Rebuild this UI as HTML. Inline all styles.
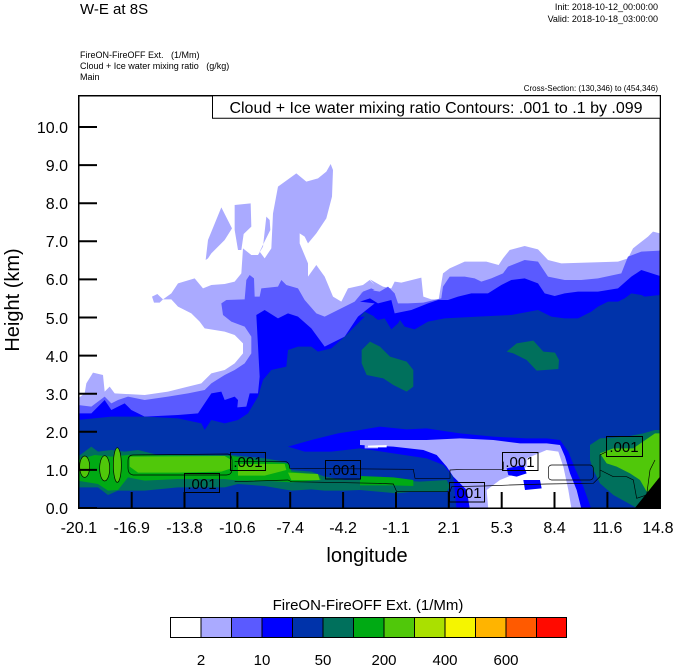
<!DOCTYPE html>
<html><head><meta charset="utf-8"><style>
html,body{margin:0;padding:0;background:#fff;}
svg{display:block;font-family:"Liberation Sans",Arial,sans-serif;}
</style></head><body>
<svg width="674" height="667" viewBox="0 0 674 667" xmlns="http://www.w3.org/2000/svg">
<defs><clipPath id="pc"><rect x="79" y="96" width="581" height="412"/></clipPath></defs>
<text x="80" y="14" font-size="15">W-E at 8S</text>
<text x="658" y="10" font-size="9" text-anchor="end">Init: 2018-10-12_00:00:00</text>
<text x="658" y="22" font-size="9" text-anchor="end">Valid: 2018-10-18_03:00:00</text>
<text x="80" y="58" font-size="9" style="white-space:pre">FireON-FireOFF Ext.   (1/Mm)</text>
<text x="80" y="69" font-size="9" style="white-space:pre">Cloud + Ice water mixing ratio   (g/kg)</text>
<text x="80" y="80" font-size="9">Main</text>
<text x="658" y="91" font-size="8" text-anchor="end">Cross-Section: (130,346) to (454,346)</text>

<g clip-path="url(#pc)">
<g transform="translate(78,130) scale(0.33333)">
<polygon fill="#aaaaff" points="0,805 20,790 25,760 45,728 75,735 80,785 95,770 110,790 200,795 270,785 330,770 370,760 400,730 440,720 470,700 495,670 495,640 470,615 440,605 380,595 365,575 340,550 300,530 280,508 255,508 245,518 228,518 222,500 238,492 255,508 280,490 300,460 350,445 375,475 400,465 440,462 470,455 490,430 495,355 520,375 540,375 555,350 565,260 575,270 577,300 562,330 545,365 560,385 580,355 585,250 600,170 655,130 685,155 720,145 745,125 758,102 765,120 762,200 745,265 715,310 690,340 680,320 665,310 665,340 690,400 690,440 715,405 740,440 765,500 790,515 810,475 855,465 875,450 890,465 876,448 915,470 940,475 950,455 970,458 1030,443 1036,500 1060,508 1082,508 1095,430 1115,415 1160,395 1225,395 1262,405 1275,385 1295,360 1340,348 1380,358 1410,390 1450,400 1620,395 1650,385 1665,355 1710,320 1725,305 1746,310 1746,1134 0,1134"/>
<polygon fill="#aaaaff" points="383,390 390,330 430,232 462,295 440,330 400,370 390,385"/>
<polygon fill="#aaaaff" points="470,225 518,220 520,290 497,312 490,360 480,360 470,300"/>
<polygon fill="#5a5aff" points="0,825 40,830 80,800 100,820 120,810 150,800 200,810 270,800 330,790 380,780 400,760 440,735 470,720 500,700 520,670 520,620 500,590 460,575 435,555 430,520 445,510 500,508 505,450 515,435 528,445 530,500 545,500 550,475 600,470 610,450 625,465 660,475 680,510 715,550 740,560 770,545 830,515 855,485 880,475 890,480 846,490 876,480 905,485 930,470 950,490 960,520 990,520 1036,518 1090,505 1095,470 1115,440 1160,440 1190,445 1210,455 1240,445 1275,430 1290,410 1340,390 1380,395 1410,440 1460,450 1510,450 1560,445 1630,430 1650,380 1690,365 1746,362 1746,1134 0,1134"/>
<polygon fill="#0000ff" points="0,850 40,850 80,810 100,840 120,830 140,820 160,840 200,860 300,855 360,850 400,790 430,785 440,810 470,800 480,810 478,832 505,830 515,790 540,790 545,740 535,555 560,540 600,565 630,550 660,560 700,595 740,650 800,620 840,560 890,520 846,515 876,505 900,520 940,510 950,550 1000,540 1050,520 1080,510 1110,510 1140,500 1180,490 1230,490 1270,465 1300,450 1340,445 1380,460 1400,490 1430,498 1460,490 1500,485 1560,485 1620,475 1660,440 1690,420 1746,438 1746,1134 0,1134"/>
<polygon fill="#0033aa" points="0,870 100,860 200,860 300,865 370,880 380,900 400,870 440,880 480,870 510,850 540,800 555,750 580,720 625,710 630,660 660,650 700,650 720,665 760,655 800,620 840,580 870,550 890,560 846,560 860,545 880,555 900,570 920,565 940,598 960,580 966,570 980,590 1010,598 1050,575 1100,565 1200,560 1300,555 1380,540 1420,560 1460,565 1500,565 1540,545 1560,530 1590,515 1620,515 1640,505 1660,490 1690,495 1700,500 1746,495 1746,1134 0,1134"/>
<polygon fill="#00705c" points="851,660 876,635 906,650 936,680 986,695 1006,720 1006,770 986,785 946,765 916,745 866,735 851,700"/>
<polygon fill="#00705c" points="1286,665 1316,640 1366,632 1396,665 1431,668 1443,690 1441,717 1376,722 1346,690 1306,670"/>
</g>
<g transform="translate(78,380) scale(0.33333)">
<polygon fill="#0000ff" points="630,200 700,180 780,160 846,150 906,140 986,148 1046,145 1146,160 1246,170 1346,175 1406,175 1446,180 1471,215 1491,265 1516,320 1541,390 1136,390 1126,290 1096,255 1046,235 946,220 846,205 760,215 680,215"/>
<polygon fill="#aaaaff" points="846,180 946,180 1046,180 1146,175 1246,180 1326,190 1406,190 1446,195 1461,230 1476,280 1496,330 1511,390 1176,390 1166,330 1126,290 1106,260 1076,225 1036,210 946,200 846,195"/>
<polygon fill="#aaaaff" points="860,192 900,190 900,205 860,205"/>
<polygon fill="#ffffff" points="1346,235 1406,210 1441,215 1456,260 1471,330 1481,390 1231,390 1226,330 1266,300 1316,280 1346,260"/>
<polygon fill="#ffffff" points="870,197 926,195 926,202 870,202"/>
<polygon fill="#0000ff" points="1286,265 1336,255 1346,280 1316,290 1291,285"/>
<polygon fill="#0000ff" points="1336,300 1386,300 1391,325 1341,330"/>
<polygon fill="#00705c" points="0,230 40,200 60,215 100,210 140,215 180,210 240,225 460,225 560,235 620,245 640,270 700,275 740,290 800,300 846,300 946,300 1026,305 1106,300 1116,320 1106,335 1006,335 956,340 846,330 800,332 740,332 700,328 640,332 560,318 480,312 440,322 300,322 200,332 120,332 90,345 60,322 0,322"/>
<polygon fill="#00aa14" points="0,240 50,225 100,230 150,225 460,228 560,245 630,250 640,275 720,285 730,300 640,307 560,302 480,302 440,297 300,297 200,302 150,292 120,330 90,332 60,312 0,302"/>
<polygon fill="#00aa14" points="846,288 946,292 1006,300 1006,318 946,316 846,316"/>
<polygon fill="#50c80a" points="155,230 440,228 460,240 460,265 430,275 300,278 180,278 155,260"/>
<polygon fill="#50c80a" points="480,252 620,252 625,270 560,287 480,287"/>
<polygon fill="#50c80a" points="630,278 720,282 725,300 640,300"/>
<ellipse cx="20" cy="260" rx="15" ry="32" fill="#50c80a"/>
<ellipse cx="80" cy="265" rx="15" ry="38" fill="#50c80a"/>
<ellipse cx="118" cy="255" rx="12" ry="52" fill="#50c80a"/>
<polygon fill="#00705c" points="1536,195 1566,175 1646,170 1696,160 1731,150 1746,150 1746,400 1706,400 1606,345 1566,310 1546,270 1536,240"/>
<polygon fill="#50c80a" points="1666,205 1731,160 1746,160 1746,330 1706,335 1686,300 1656,280 1616,260 1586,250 1566,220 1606,205"/>
<polygon fill="#000" points="1666,390 1746,390 1746,290"/>
<g fill="none" stroke="#000" stroke-width="2">
<path d="M165,225 L450,222 Q462,225 462,240 L462,270 Q460,285 445,285 L165,285 Q150,282 150,265 L150,242 Q150,225 165,225 Z"/>
<path d="M470,245 L625,245 Q635,250 635,265 L1006,268 L1011,295 L1116,295 L1116,270 L1156,268 L1276,268 L1276,245"/>
<path d="M470,305 L630,300 L640,305 L900,310 L946,312 L956,335 L1116,335 L1121,320 L1216,318 L1296,315 L1406,312 L1546,310 L1566,290 L1566,225 L1586,215"/>
<rect x="1411" y="255" width="135" height="45" rx="10"/>
<path d="M1566,270 L1606,290 L1646,290 L1666,300 L1676,355 L1706,345 L1716,270 L1731,240"/>
<ellipse cx="20" cy="260" rx="15" ry="32"/>
<ellipse cx="80" cy="265" rx="15" ry="38"/>
<ellipse cx="118" cy="255" rx="12" ry="52"/>
</g>
</g>
</g>

<g fill="none" stroke="#000" stroke-width="1">
<rect x="230.5" y="452.5" width="35" height="18"/>
<rect x="184.5" y="473.5" width="35" height="19"/>
<rect x="325.5" y="460.5" width="35" height="18.5"/>
<rect x="449.5" y="482.5" width="35" height="19.5"/>
<rect x="502.5" y="452.5" width="35.5" height="18"/>
<rect x="606.5" y="436.5" width="36" height="20"/>
</g>
<g font-size="15" text-anchor="middle">
<text x="248" y="467">.001</text>
<text x="202" y="489">.001</text>
<text x="343" y="475">.001</text>
<text x="467" y="498">.001</text>
<text x="520" y="467">.001</text>
<text x="624" y="452">.001</text>
</g>

<rect x="78.75" y="95.75" width="581.5" height="412.5" fill="none" stroke="#000" stroke-width="1.5"/>
<rect x="212.5" y="95.75" width="447.75" height="22.5" fill="#fff" stroke="#000" stroke-width="1"/>
<text x="436" y="113" font-size="16" text-anchor="middle">Cloud + Ice water mixing ratio Contours: .001 to .1 by .099</text>

<g stroke="#000" stroke-width="2">
<path d="M79,508h18M79,469.9h18M79,431.8h18M79,393.7h18M79,355.6h18M79,317.5h18M79,279.4h18M79,241.3h18M79,203.2h18M79,165.1h18M79,127h18"/>
<path d="M131.7,508v-16M184.5,508v-16M237.4,508v-16M290.2,508v-16M343.1,508v-16M396,508v-16M448.8,508v-16M501.7,508v-16M554.5,508v-16M607.4,508v-16"/>
</g>
<g font-size="16" text-anchor="end">
<text x="68" y="514">0.0</text><text x="68" y="476">1.0</text><text x="68" y="438">2.0</text>
<text x="68" y="400">3.0</text><text x="68" y="362">4.0</text><text x="68" y="324">5.0</text>
<text x="68" y="285">6.0</text><text x="68" y="247">7.0</text><text x="68" y="209">8.0</text>
<text x="68" y="171">9.0</text><text x="68" y="133">10.0</text>
</g>
<text transform="translate(19,300) rotate(-90)" font-size="20" text-anchor="middle">Height (km)</text>
<g font-size="16" text-anchor="middle">
<text x="78.8" y="533">-20.1</text><text x="131.7" y="533">-16.9</text><text x="184.5" y="533">-13.8</text>
<text x="237.4" y="533">-10.6</text><text x="290.2" y="533">-7.4</text><text x="343.1" y="533">-4.2</text>
<text x="396" y="533">-1.1</text><text x="448.8" y="533">2.1</text><text x="501.7" y="533">5.3</text>
<text x="554.5" y="533">8.4</text><text x="607.4" y="533">11.6</text><text x="658" y="533">14.8</text>
</g>
<text x="367" y="562" font-size="20" text-anchor="middle">longitude</text>

<text x="368" y="610" font-size="15" text-anchor="middle">FireON-FireOFF Ext.  (1/Mm)</text>
<g stroke="#000" stroke-width="1">
<rect x="170.5" y="617.5" width="30.5" height="20" fill="#ffffff"/>
<rect x="201" y="617.5" width="30.5" height="20" fill="#aaaaff"/>
<rect x="231.5" y="617.5" width="30.5" height="20" fill="#5a5aff"/>
<rect x="262" y="617.5" width="30.5" height="20" fill="#0000ff"/>
<rect x="292.5" y="617.5" width="30.5" height="20" fill="#0033aa"/>
<rect x="323" y="617.5" width="30.5" height="20" fill="#00705c"/>
<rect x="353.5" y="617.5" width="30.5" height="20" fill="#00aa14"/>
<rect x="384" y="617.5" width="30.5" height="20" fill="#50c80a"/>
<rect x="414.5" y="617.5" width="30.5" height="20" fill="#aae000"/>
<rect x="445" y="617.5" width="30.5" height="20" fill="#f5f500"/>
<rect x="475.5" y="617.5" width="30.5" height="20" fill="#ffb400"/>
<rect x="506" y="617.5" width="30.5" height="20" fill="#ff5a00"/>
<rect x="536.5" y="617.5" width="30" height="20" fill="#ff0a00"/>
</g>
<g font-size="15" text-anchor="middle">
<text x="201" y="665">2</text><text x="262" y="665">10</text><text x="323" y="665">50</text>
<text x="384" y="665">200</text><text x="445" y="665">400</text><text x="506" y="665">600</text>
</g>
</svg>
</body></html>
